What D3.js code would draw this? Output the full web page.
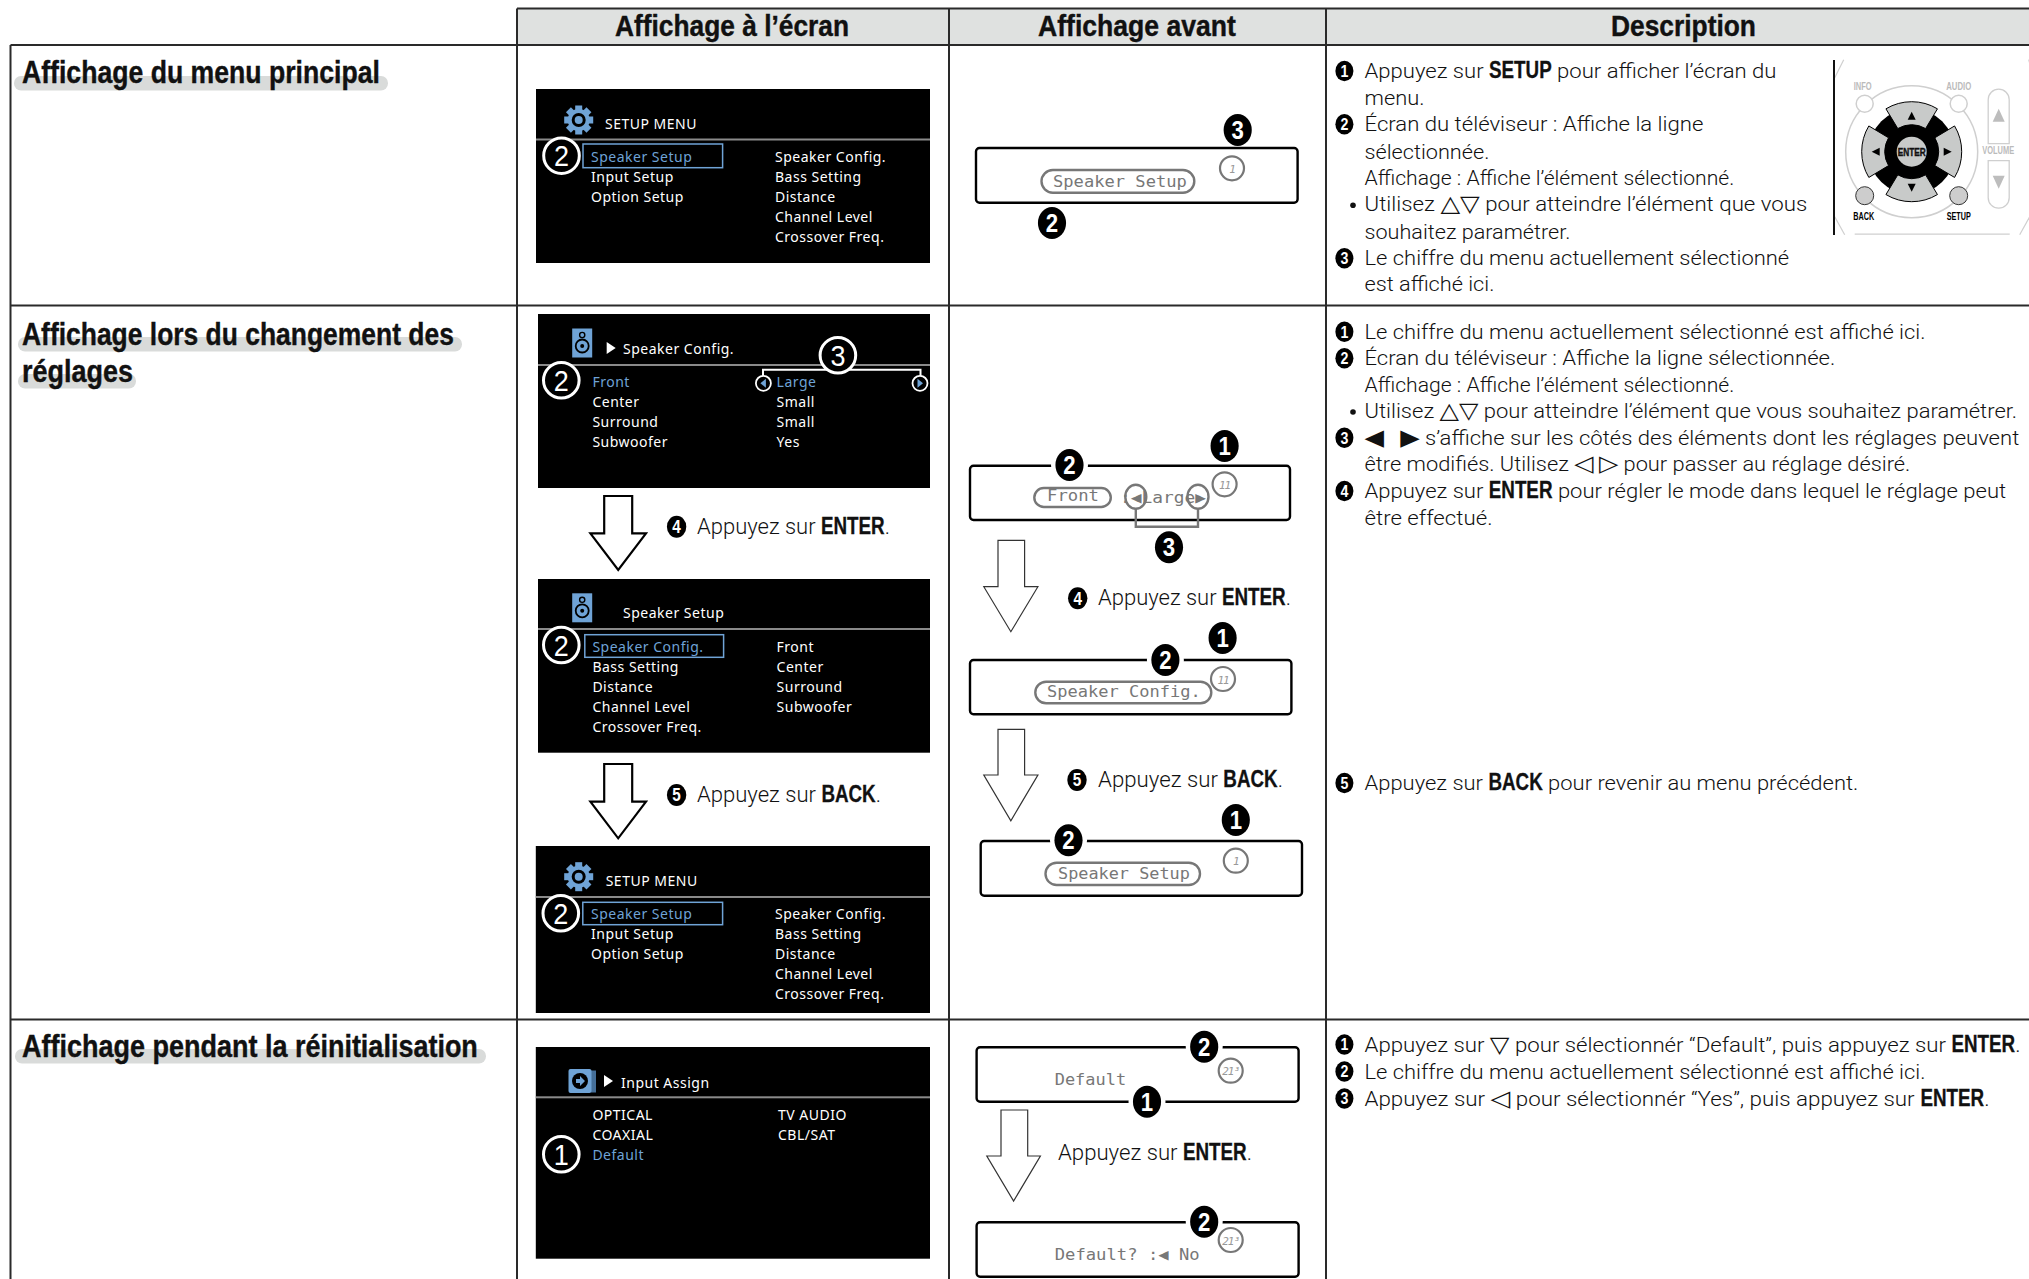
<!DOCTYPE html>
<html lang="fr">
<head>
<meta charset="utf-8">
<title>Affichage</title>
<script src="https://cdn.jsdelivr.net/npm/d3@7/dist/d3.min.js"></script>
<style>
  html, body { margin: 0; padding: 0; background: #fff; }
  svg { display: block; }
  text { white-space: pre; }
</style>
</head>
<body>
<div id="page"></div>
<script>
// Textes du tableau
var columnTitles = ["Affichage à l’écran", "Affichage avant", "Description"];
var sectionTitles = [
  ["Affichage du menu principal"],
  ["Affichage lors du changement des", "réglages"],
  ["Affichage pendant la réinitialisation"]
];

// Ecrans du menu : titre, colonne gauche, colonne droite
var menuTitles = ["SETUP MENU", "Speaker Config.", "Speaker Setup", "SETUP MENU", "Input Assign"];
var menuLeft = [
  ["Speaker Setup", "Input Setup", "Option Setup"],
  ["Front", "Center", "Surround", "Subwoofer"],
  ["Speaker Config.", "Bass Setting", "Distance", "Channel Level", "Crossover Freq."],
  ["Speaker Setup", "Input Setup", "Option Setup"],
  ["OPTICAL", "COAXIAL", "Default"]
];
var menuRight = [
  ["Speaker Config.", "Bass Setting", "Distance", "Channel Level", "Crossover Freq."],
  ["Large", "Small", "Small", "Yes"],
  ["Front", "Center", "Surround", "Subwoofer"],
  ["Speaker Config.", "Bass Setting", "Distance", "Channel Level", "Crossover Freq."],
  ["TV AUDIO", "CBL/SAT"]
];
var menuActive = [0, 0, 0, 0, 2];

// Afficheur avant
var lcdPills = ["Speaker Setup", "Front", "Speaker Config.", "Speaker Setup"];
var lcdPlain = ["Default", "Default? :◀ No"];
var lcdCounters = ["1", "11", "11", "1", "21³", "21³"];
var stepLabels = ["Appuyez sur **ENTER**.", "Appuyez sur **BACK**.", "Appuyez sur **ENTER**.", "Appuyez sur **BACK**.", "Appuyez sur **ENTER**."];
var stepNumbers = ["4", "5", "4", "5", ""];

// Description, ** = gras
var descNumbers = ["1", "2", "3", "1", "2", "3", "4", "5", "1", "2", "3"];
var descLines = [
  "Appuyez sur **SETUP** pour afficher l’écran du",
  "menu.",
  "Écran du téléviseur : Affiche la ligne",
  "sélectionnée.",
  "Affichage : Affiche l’élément sélectionné.",
  "Utilisez △▽ pour atteindre l’élément que vous",
  "souhaitez paramétrer.",
  "Le chiffre du menu actuellement sélectionné",
  "est affiché ici.",
  "Le chiffre du menu actuellement sélectionné est affiché ici.",
  "Écran du téléviseur : Affiche la ligne sélectionnée.",
  "Affichage : Affiche l’élément sélectionné.",
  "Utilisez △▽ pour atteindre l’élément que vous souhaitez paramétrer.",
  "◀   ▶ s’affiche sur les côtés des éléments dont les réglages peuvent",
  "être modifiés. Utilisez ◁ ▷ pour passer au réglage désiré.",
  "Appuyez sur **ENTER** pour régler le mode dans lequel le réglage peut",
  "être effectué.",
  "Appuyez sur **BACK** pour revenir au menu précédent.",
  "Appuyez sur ▽ pour sélectionnér “Default”, puis appuyez sur **ENTER**.",
  "Le chiffre du menu actuellement sélectionné est affiché ici.",
  "Appuyez sur ◁ pour sélectionnér “Yes”, puis appuyez sur **ENTER**."
];

// ---- Mise en page ----
var W = 2029, H = 1279;
var LIGHT = "Roboto, 'DejaVu Sans', sans-serif";
var NARROW = "'Liberation Sans Narrow', 'Liberation Sans', sans-serif";
var MENU = "'Noto Sans', sans-serif";
var MONO = "'DejaVu Sans Mono', monospace";
var BLUE = "#6fa3d6";

var colX = [517, 949, 1326, W];
var rowY = [45, 305.5, 1019.5, H];

var svg = d3.select("#page").append("svg").attr("width", W).attr("height", H);

// Ecrit une ligne par morceaux (leger, gras, symboles) calee sur la largeur voulue.
// Le gras garde une echelle fixe pour rester etroit, le reste absorbe la difference.
function fitText(parent, str, x, base, width, size) {
  var g = parent.append("g").attr("class", "line");
  var parts = [];
  str.split("**").forEach(function (part, i) {
    if (!part) return;
    if (i % 2) { parts.push({ s: part, bold: true }); return; }
    part.split(/([△▽◁▷◀▶]+)/).forEach(function (p, j) {
      if (p) parts.push({ s: p, sym: j % 2 === 1 });
    });
  });
  var lightLen = 0, boldLen = 0;
  parts.forEach(function (p) {
    p.t = g.append("text").text(p.s).attr("fill", "#111");
    if (p.bold) {
      p.t.attr("font-family", NARROW).attr("font-weight", 700).attr("font-size", 23.5)
        .attr("stroke", "#111").attr("stroke-width", 0.3);
    } else if (p.sym) {
      p.t.attr("font-family", "'DejaVu Sans'").attr("font-size", size * 1.15);
    } else {
      p.t.attr("font-family", LIGHT).attr("font-weight", 300).attr("font-size", size);
    }
    p.len = p.t.node().getComputedTextLength();
    if (p.bold) boldLen += p.len; else lightLen += p.len;
  });
  var kb = 0.8;
  var k = (width - kb * boldLen) / lightLen;
  var cur = x;
  parts.forEach(function (p) {
    var sx = p.bold ? kb : k;
    p.t.attr("transform", "translate(" + cur + "," + base + ") scale(" + sx + ",1)");
    cur += p.len * sx;
  });
}

// Titre en gras etroit, cale sur sa largeur
function boldText(str, x, base, width, size, parent) {
  var t = (parent || svg).append("text").text(str)
    .attr("font-family", NARROW).attr("font-weight", 700)
    .attr("font-size", size).attr("fill", "#111")
    .attr("stroke", "#111").attr("stroke-width", 0.4);
  var k = width / t.node().getComputedTextLength();
  t.attr("transform", "translate(" + x + "," + base + ") scale(" + k + ",1)");
  return t;
}

// Pastille noire a chiffre blanc
function badge(cx, cy, r, num, halo) {
  var g = svg.append("g").attr("transform", "translate(" + cx + "," + cy + ")");
  if (halo) g.append("circle").attr("r", r + 4).attr("fill", "#fff");
  g.append("ellipse").attr("rx", r * 0.97).attr("ry", r * 1.1).attr("fill", "#000");
  var t = g.append("text").text(num).attr("text-anchor", "middle")
    .attr("font-family", NARROW).attr("font-weight", 700)
    .attr("font-size", r * 1.8).attr("fill", "#fff");
  t.attr("transform", "translate(0," + r * 0.63 + ") scale(0.85,1)");
}

function arrow(a, stroke, sw) {
  var line = d3.line();
  svg.append("path")
    .attr("d", line([
      [a.x0, a.top], [a.x1, a.top], [a.x1, a.sh], [a.hx1, a.sh],
      [(a.hx0 + a.hx1) / 2, a.tip], [a.hx0, a.sh], [a.x0, a.sh]
    ]) + "Z")
    .attr("fill", "#fff").attr("stroke", stroke).attr("stroke-width", sw)
    .attr("stroke-linejoin", "miter");
}

// ---- Tableau ----
svg.append("rect").attr("x", colX[0]).attr("y", 8.5)
  .attr("width", W - colX[0]).attr("height", rowY[0] - 8.5)
  .attr("fill", "#dfe1e0");

var gridLines = [
  [colX[0], 8.5, W, 8.5],
  [10.5, rowY[0], W, rowY[0]],
  [10.5, rowY[1], W, rowY[1]],
  [10.5, rowY[2], W, rowY[2]],
  [10.5, rowY[0], 10.5, H],
  [colX[0], 8.5, colX[0], H],
  [colX[1], 8.5, colX[1], H],
  [colX[2], 8.5, colX[2], H]
];
svg.selectAll(".grid").data(gridLines).enter().append("line")
  .attr("class", "grid")
  .attr("x1", function (d) { return d[0]; }).attr("y1", function (d) { return d[1]; })
  .attr("x2", function (d) { return d[2]; }).attr("y2", function (d) { return d[3]; })
  .attr("stroke", "#2a2a2a").attr("stroke-width", 2);

var headerPos = [[615, 234], [1038, 198], [1611, 145]];
columnTitles.forEach(function (c, i) {
  boldText(c, headerPos[i][0], 36, headerPos[i][1], 29);
});

// Titres de section sur leur bande grise
var bands = [
  [[14, 76, 374, 14.5]],
  [[18, 337, 444, 14.5], [18, 374, 118, 14.5]],
  [[15, 1049, 471, 14.5]]
];
var sectionPos = [
  [[22, 83, 358]],
  [[22, 344.5, 432], [22, 381.5, 111]],
  [[22, 1056.5, 456]]
];
sectionTitles.forEach(function (lines, i) {
  lines.forEach(function (str, j) {
    var b = bands[i][j], p = sectionPos[i][j];
    svg.append("rect").attr("x", b[0]).attr("y", b[1]).attr("width", b[2]).attr("height", b[3])
      .attr("rx", 7).attr("fill", "#d9dbda");
    boldText(str, p[0], p[1], p[2], 32);
  });
});

// ---- Ecrans du menu ----
var menuBoxes = [
  { x0: 536, x1: 930, y0: 89, y1: 263, rule: 139.5, row: 157, lx: 591, rx: 775, tx: 605, ty: 124, icon: "gear", ix: 578.7, iy: 120, hi: [583, 144, 722.6, 167.7], mark: [561.5, 155.7, "2"] },
  { x0: 538, x1: 930, y0: 314, y1: 488, rule: 365, row: 382, lx: 592.4, rx: 776.6, tx: 623, ty: 349, icon: "speaker", ix: 582.2, iy: 343, tri: [606.7, 348], mark: [561.3, 380.3, "2"] },
  { x0: 538, x1: 930, y0: 579, y1: 752.7, rule: 629, row: 646.8, lx: 592.4, rx: 776.6, tx: 623, ty: 612.8, icon: "speaker", ix: 582.2, iy: 607.8, hi: [584.8, 634.7, 723.6, 657.3], mark: [561.3, 645, "2"] },
  { x0: 535.8, x1: 930, y0: 846, y1: 1013, rule: 897, row: 914, lx: 591, rx: 775, tx: 605.7, ty: 880.5, icon: "gear", ix: 578.7, iy: 876.7, hi: [582.8, 902.3, 722.6, 924.7], mark: [560.8, 913.3, "2"] },
  { x0: 535.8, x1: 930, y0: 1047, y1: 1258.7, rule: 1097.3, row: 1114.5, lx: 592.4, rx: 778, tx: 621, ty: 1082.5, icon: "input", ix: 582, iy: 1081, tri: [604, 1081], mark: [561.3, 1154.3, "1"] }
];

function gearIcon(g) {
  d3.range(8).forEach(function (i) {
    g.append("rect").attr("x", -3.5).attr("y", -14.5).attr("width", 7).attr("height", 8)
      .attr("fill", BLUE).attr("transform", "rotate(" + i * 45 + ")");
  });
  g.append("circle").attr("r", 11).attr("fill", BLUE);
  g.append("circle").attr("r", 7).attr("fill", "#000");
  g.append("circle").attr("r", 4).attr("fill", BLUE);
}
function speakerIcon(g) {
  g.append("rect").attr("x", -10).attr("y", -14.5).attr("width", 20).attr("height", 29).attr("fill", BLUE);
  g.append("circle").attr("cy", -8).attr("r", 2.6).attr("fill", "none").attr("stroke", "#000").attr("stroke-width", 1.4);
  g.append("circle").attr("cy", 3).attr("r", 6.5).attr("fill", "none").attr("stroke", "#000").attr("stroke-width", 1.8);
  g.append("circle").attr("cy", 3).attr("r", 2).attr("fill", "#000");
}
function inputIcon(g) {
  g.append("rect").attr("x", 9).attr("y", -10.5).attr("width", 5).attr("height", 22).attr("fill", "#456f99");
  g.append("rect").attr("x", -13.5).attr("y", -12).attr("width", 23).attr("height", 24).attr("rx", 2).attr("fill", BLUE);
  g.append("circle").attr("cx", -2).attr("r", 8).attr("fill", "#000");
  g.append("path").attr("d", d3.line()([[-6, -2], [-2, -2], [-2, -5], [3, 0], [-2, 5], [-2, 2], [-6, 2]]) + "Z").attr("fill", BLUE);
}

function whiteMark(g, cx, cy, num) {
  g.append("circle").attr("cx", cx).attr("cy", cy).attr("r", 17.8)
    .attr("fill", "#000").attr("stroke", "#fff").attr("stroke-width", 3);
  g.append("text").text(num).attr("transform", "translate(" + cx + "," + (cy + 10.5) + ") scale(0.9,1)").attr("text-anchor", "middle")
    .attr("font-family", NARROW).attr("font-size", 30).attr("fill", "#fff");
}

menuBoxes.forEach(function (m, i) {
  var g = svg.append("g").attr("class", "menu");
  g.append("rect").attr("x", m.x0).attr("y", m.y0).attr("width", m.x1 - m.x0).attr("height", m.y1 - m.y0).attr("fill", "#000");
  g.append("rect").attr("x", m.x0).attr("y", m.rule - 1).attr("width", m.x1 - m.x0).attr("height", 2).attr("fill", "#8a8a8a");

  var icon = g.append("g").attr("transform", "translate(" + m.ix + "," + m.iy + ")");
  if (m.icon === "gear") gearIcon(icon);
  if (m.icon === "speaker") speakerIcon(icon);
  if (m.icon === "input") inputIcon(icon);

  if (m.tri) {
    g.append("path").attr("d", d3.line()([[m.tri[0], m.tri[1] - 6], [m.tri[0] + 9, m.tri[1]], [m.tri[0], m.tri[1] + 6]]) + "Z").attr("fill", "#fff");
  }

  var menuText = function (sel) {
    return sel.attr("font-family", MENU).attr("font-size", 14).attr("letter-spacing", 0.5);
  };
  menuText(g.append("text").text(menuTitles[i])).attr("x", m.tx).attr("y", m.ty + 5).attr("fill", "#fff");

  var rowScale = d3.scaleLinear().domain([0, 1]).range([m.row + 5, m.row + 25]);
  menuText(g.selectAll(".left").data(menuLeft[i]).enter().append("text").attr("class", "left"))
    .attr("x", m.lx).attr("y", function (d, j) { return rowScale(j); })
    .attr("fill", function (d, j) { return j === menuActive[i] ? BLUE : "#fff"; })
    .text(function (d) { return d; });
  menuText(g.selectAll(".right").data(menuRight[i]).enter().append("text").attr("class", "right"))
    .attr("x", m.rx).attr("y", function (d, j) { return rowScale(j); })
    .attr("fill", function (d, j) { return i === 1 && j === 0 ? BLUE : "#fff"; })
    .text(function (d) { return d; });

  if (m.hi) {
    g.append("rect").attr("x", m.hi[0]).attr("y", m.hi[1]).attr("width", m.hi[2] - m.hi[0]).attr("height", m.hi[3] - m.hi[1])
      .attr("fill", "none").attr("stroke", BLUE).attr("stroke-width", 1.5);
  }
  whiteMark(g, m.mark[0], m.mark[1], m.mark[2]);
});

// Crochet et fleches de "Large"
var menu2 = svg.append("g");
menu2.append("path").attr("d", d3.line()([[763, 376], [763, 369.7], [920.5, 369.7], [920.5, 376]]))
  .attr("fill", "none").attr("stroke", "#fff").attr("stroke-width", 2);
whiteMark(menu2, 837.9, 355.3, "3");
[[763.4, 1], [920, -1]].forEach(function (p) {
  menu2.append("circle").attr("cx", p[0]).attr("cy", 383.3).attr("r", 7.5).attr("fill", "#000").attr("stroke", "#fff").attr("stroke-width", 1.8);
  menu2.append("path").attr("d", d3.line()([[p[0] + 2.5 * p[1], 378.8], [p[0] - 3 * p[1], 383.3], [p[0] + 2.5 * p[1], 387.8]]) + "Z").attr("fill", BLUE);
});

// Grosses fleches colonne gauche + texte des etapes
[
  { x0: 604.2, x1: 632.2, top: 496, sh: 533.3, hx0: 590.4, hx1: 646, tip: 570 },
  { x0: 604.2, x1: 632.2, top: 764, sh: 801.7, hx0: 590.4, hx1: 646, tip: 838.3 }
].forEach(function (a) { arrow(a, "#000", 2.2); });
[
  { x0: 998, x1: 1024.6, top: 540.3, sh: 586.7, hx0: 983.8, hx1: 1037.9, tip: 631.7 },
  { x0: 998, x1: 1024.6, top: 729.3, sh: 775, hx0: 983.8, hx1: 1037.9, tip: 820.7 },
  { x0: 1001, x1: 1027.7, top: 1110, sh: 1156, hx0: 986.8, hx1: 1040.4, tip: 1201 }
].forEach(function (a) { arrow(a, "#333", 1.2); });

var stepPos = [
  [676.6, 526.7, 697, 193],
  [676.6, 795, 697, 184],
  [1077.7, 598.3, 1098, 193],
  [1077, 780, 1098, 185],
  [0, 1153.3, 1058, 194]
];
stepLabels.forEach(function (str, i) {
  var p = stepPos[i];
  if (stepNumbers[i]) badge(p[0], p[1], 10, stepNumbers[i]);
  fitText(svg, str, p[2], p[1] + 7, p[3], 22);
});

// ---- Afficheurs ----
var lcdBoxes = [
  [976, 148, 1297.6, 202.7], [970, 465.7, 1290, 520], [970, 660, 1291.4, 714.3],
  [980.7, 841, 1302, 895.7], [976.6, 1047.3, 1298.6, 1101.7], [976.6, 1222.3, 1298.6, 1276.7]
];
svg.selectAll(".lcd").data(lcdBoxes).enter().append("rect")
  .attr("class", "lcd")
  .attr("x", function (d) { return d[0]; }).attr("y", function (d) { return d[1]; })
  .attr("width", function (d) { return d[2] - d[0]; }).attr("height", function (d) { return d[3] - d[1]; })
  .attr("rx", 3.5).attr("fill", "#fff").attr("stroke", "#000").attr("stroke-width", 2.4);

function lcdText(str, x, base, width) {
  var t = svg.append("text").text(str).attr("font-family", MONO).attr("font-size", 16).attr("fill", "#777");
  var k = width / t.node().getComputedTextLength();
  t.attr("transform", "translate(" + x + "," + base + ") scale(" + k + ",1)");
}

var pillBoxes = [
  [1041.5, 170, 1194.3, 192.7, 1053, 134],
  [1034.3, 488, 1110.8, 507, 1047, 52],
  [1035.3, 681.7, 1211.3, 703.3, 1047, 154],
  [1045.5, 862.7, 1200, 885, 1058, 132]
];
lcdPills.forEach(function (str, i) {
  var p = pillBoxes[i];
  svg.append("rect").attr("x", p[0]).attr("y", p[1]).attr("width", p[2] - p[0]).attr("height", p[3] - p[1])
    .attr("rx", (p[3] - p[1]) / 2).attr("fill", "#fff").attr("stroke", "#777").attr("stroke-width", 2.4);
  lcdText(str, p[4], p[3] - 6, p[5]);
});

// "Large" avec ses fleches et le crochet
lcdText(":◀Large▶", 1120, 503, 86);
[1135.8, 1198].forEach(function (cx) {
  svg.append("ellipse").attr("cx", cx).attr("cy", 496.7).attr("rx", 10.5).attr("ry", 12)
    .attr("fill", "none").attr("stroke", "#777").attr("stroke-width", 2.4);
});
svg.append("path").attr("d", d3.line()([[1135.8, 508.7], [1135.8, 526.7], [1198, 526.7], [1198, 508.7]]))
  .attr("fill", "none").attr("stroke", "#777").attr("stroke-width", 2.4);

lcdText(lcdPlain[0], 1054.7, 1085, 71.5);
lcdText(lcdPlain[1], 1054.7, 1260, 145);

var counters = [[1232, 168.3], [1224.6, 484.3], [1223, 679], [1235.8, 860.7], [1230.7, 1070.7], [1230.7, 1240]];
lcdCounters.forEach(function (str, i) {
  var c = counters[i];
  svg.append("circle").attr("cx", c[0]).attr("cy", c[1]).attr("r", 12)
    .attr("fill", "#fff").attr("stroke", "#777").attr("stroke-width", 2.2);
  svg.append("text").text(str).attr("x", c[0]).attr("y", c[1] + 4.5).attr("text-anchor", "middle")
    .attr("font-family", MONO).attr("font-style", "oblique").attr("font-size", 11)
    .attr("letter-spacing", -1).attr("fill", "#999");
});

var lcdBadges = [
  [1237.7, 130, "3", 0], [1052, 223, "2", 0],
  [1069.5, 465, "2", 1], [1224.6, 446, "1", 0], [1169, 547.3, "3", 0],
  [1165.4, 660, "2", 1], [1222.6, 638, "1", 0],
  [1068.5, 840.3, "2", 1], [1235.8, 820, "1", 0],
  [1204.2, 1046.7, "2", 1], [1147, 1101.7, "1", 1],
  [1204.2, 1221.7, "2", 1]
];
lcdBadges.forEach(function (b) { badge(b[0], b[1], 14.5, b[2], b[3]); });

// ---- Description ----
var descPos = [
  [71, 412], [98.3, 60], [124.3, 339], [151.7, 125], [178.3, 370], [204.3, 443], [231.7, 206], [258.3, 425], [284.3, 130],
  [331.7, 561], [358.3, 471], [384.7, 370], [411, 653], [437.7, 655], [464.3, 546], [491, 642], [517.7, 128],
  [783, 494],
  [1044.5, 656], [1071.6, 561], [1098.6, 625]
];
var descBadgeRows = [0, 2, 7, 9, 10, 13, 15, 17, 18, 19, 20];
descBadgeRows.forEach(function (r, i) {
  badge(1344.4, descPos[r][0], 9.3, descNumbers[i]);
});
descLines.forEach(function (str, i) {
  fitText(svg, str, 1364.5, descPos[i][0] + 7, descPos[i][1], 19.5);
});
[204.3, 411].forEach(function (y) {
  svg.append("circle").attr("cx", 1353).attr("cy", y + 1).attr("r", 2.8).attr("fill", "#111");
});

// ---- Telecommande ----
var remote = svg.append("g").attr("transform", "translate(1911.7,151.7)");
svg.append("line").attr("x1", 1834).attr("y1", 60).attr("x2", 1834).attr("y2", 235).attr("stroke", "#111").attr("stroke-width", 2);
var soft = "#cfcfcf";
remote.append("circle").attr("r", 66).attr("fill", "none").attr("stroke", soft).attr("stroke-width", 1.5);
[[-68, -92, -77, -74], [117, -92, 122, -74], [-77, 65, -67, 83], [108, 83, 118, 65], [-57, 82.5, 98, 82.5]].forEach(function (d) {
  remote.append("line").attr("x1", d[0]).attr("y1", d[1]).attr("x2", d[2]).attr("y2", d[3]).attr("stroke", soft).attr("stroke-width", 1.2);
});
[-47, 47].forEach(function (cx) {
  remote.append("circle").attr("cx", cx).attr("cy", -48).attr("r", 8.5).attr("fill", "#fff").attr("stroke", soft).attr("stroke-width", 1.5);
  remote.append("circle").attr("cx", cx).attr("cy", 44).attr("r", 9).attr("fill", "#cdcdcd").attr("stroke", "#333").attr("stroke-width", 1);
});

var arcPetal = d3.arc().innerRadius(27).outerRadius(50);
remote.append("circle").attr("r", 43).attr("fill", "#000");
[0, 90, 180, 270].forEach(function (a) {
  var rad = 31 * Math.PI / 180;
  remote.append("path")
    .attr("d", arcPetal({ startAngle: -rad, endAngle: rad }))
    .attr("transform", "rotate(" + a + ")")
    .attr("fill", "#c8cac9").attr("stroke", "#000").attr("stroke-width", 1);
  remote.append("path").attr("d", d3.line()([[-4, -32], [0, -40], [4, -32]]) + "Z")
    .attr("transform", "rotate(" + a + ")").attr("fill", "#000");
});
remote.append("circle").attr("r", 15).attr("fill", "#c8cac9");
boldText("ENTER", -14, 4, 28, 11, remote);

[["INFO", -58, -62, 18, "#bbb"], ["AUDIO", 34.5, -62, 25, "#bbb"], ["BACK", -58.5, 68, 21, "#000"], ["SETUP", 35, 68, 24, "#000"], ["VOLUME", 70.5, 2, 32, "#bbb"]].forEach(function (d) {
  boldText(d[0], d[1], d[2], d[3], 10.5, remote).attr("fill", d[4]).attr("stroke", "none");
});
remote.append("path")
  .attr("d", "M76.5,-8V-52a10.5,10.5 0 0 1 21,0V-8Z M76.5,9V46a10.5,10.5 0 0 0 21,0V9Z")
  .attr("fill", "#fff").attr("stroke", soft).attr("stroke-width", 1.3);
remote.append("path").attr("d", d3.line()([[81, -30], [87, -43], [93, -30]]) + "Z").attr("fill", "#bdbdbd");
remote.append("path").attr("d", d3.line()([[81, 24], [87, 37], [93, 24]]) + "Z").attr("fill", "#bdbdbd");
</script>
</body>
</html>
